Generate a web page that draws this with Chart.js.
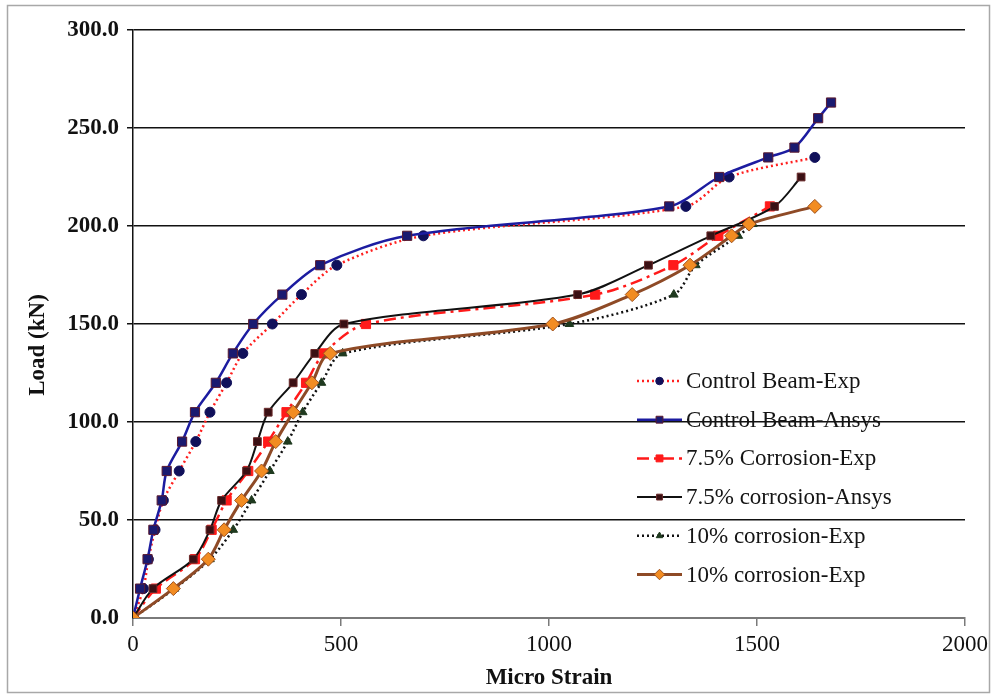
<!DOCTYPE html>
<html>
<head>
<meta charset="utf-8">
<script src="https://cdn.jsdelivr.net/npm/chart.js@4.4.1/dist/chart.umd.min.js"></script>
<style>
  html, body { margin: 0; padding: 0; background: #ffffff; }
  #wrap { width: 995px; height: 700px; position: relative; }
</style>
</head>
<body>
<div id="wrap"><canvas id="c" width="995" height="700"></canvas></div>
<script>
// Load (kN) levels and measured micro strain for each beam
const controlExpStrain   = [0, 25, 37, 53, 73, 111, 151, 185, 225, 264, 335, 405, 490, 698, 1329, 1433, 1639];
const controlExpLoad     = [0, 15, 30, 45, 60, 75, 90, 105, 120, 135, 150, 165, 180, 195, 210, 225, 235];

const controlAnsysStrain = [0, 17, 35, 49, 69, 81, 118, 149, 199, 240, 289, 359, 450, 659, 1289, 1409, 1527, 1590, 1647, 1678];
const controlAnsysLoad   = [0, 15, 30, 45, 60, 75, 90, 105, 120, 135, 150, 165, 180, 195, 210, 225, 235, 240, 255, 263];

const corr75ExpStrain    = [0, 55, 149, 189, 225, 277, 325, 369, 416, 459, 560, 1111, 1299, 1407, 1531];
const corr75ExpLoad      = [0, 15, 30, 45, 60, 75, 90, 105, 120, 135, 150, 165, 180, 195, 210];

const corr75AnsysStrain  = [0, 48, 145, 185, 213, 273, 299, 325, 385, 437, 507, 1069, 1239, 1389, 1542, 1606];
const corr75AnsysLoad    = [0, 15, 30, 45, 60, 75, 90, 105, 120, 135, 150, 165, 180, 195, 210, 225];

const corr10ExpStrain    = [0, 100, 185, 241, 285, 329, 372, 408, 453, 504, 1049, 1300, 1353, 1455, 1490];
const corr10ExpLoad      = [0, 15, 30, 45, 60, 75, 90, 105, 120, 135, 150, 165, 180, 195, 201];

const corr10BExpStrain   = [0, 97, 181, 219, 261, 309, 343, 385, 430, 474, 1009, 1200, 1339, 1439, 1481, 1639];
const corr10BExpLoad     = [0, 15, 30, 45, 60, 75, 90, 105, 120, 135, 150, 165, 180, 195, 201, 210];

const seriesNames = [
  'Control Beam-Exp',
  'Control Beam-Ansys',
  '7.5% Corrosion-Exp',
  '7.5% corrosion-Ansys',
  '10% corrosion-Exp',
  '10% corrosion-Exp'
];

const xTickValues = [0, 500, 1000, 1500, 2000];
const yTickValues = [0, 50, 100, 150, 200, 250, 300];
const yTitle = 'Load (kN)';

const pairs = (xs, ys) => xs.map((x, i) => ({ x: x, y: ys[i] }));

const SERIF = '"Liberation Serif", "Times New Roman", serif';

const datasets = [
  {
    label: seriesNames[0],
    data: pairs(controlExpStrain, controlExpLoad),
    borderColor: '#ff1f1f', borderWidth: 2.5, borderDash: [2, 3],
    pointStyle: 'circle', pointRadius: 5,
    pointBackgroundColor: '#10105a', pointBorderColor: '#10105a', pointBorderWidth: 1
  },
  {
    label: seriesNames[1],
    data: pairs(controlAnsysStrain, controlAnsysLoad),
    borderColor: '#1c1ca0', borderWidth: 2.5,
    pointStyle: 'rect', pointRadius: 6.5,
    pointBackgroundColor: '#1a1a70', pointBorderColor: '#5a1a30', pointBorderWidth: 1
  },
  {
    label: seriesNames[2],
    data: pairs(corr75ExpStrain, corr75ExpLoad),
    borderColor: '#ff1a1a', borderWidth: 2.5, borderDash: [12, 5, 3, 5],
    pointStyle: 'rect', pointRadius: 6.5,
    pointBackgroundColor: '#ff1a1a', pointBorderColor: '#ff1a1a', pointBorderWidth: 1
  },
  {
    label: seriesNames[3],
    data: pairs(corr75AnsysStrain, corr75AnsysLoad),
    borderColor: '#111111', borderWidth: 2,
    pointStyle: 'rect', pointRadius: 5.5,
    pointBackgroundColor: '#3a1014', pointBorderColor: '#6a2a2a', pointBorderWidth: 1
  },
  {
    label: seriesNames[4],
    data: pairs(corr10ExpStrain, corr10ExpLoad),
    borderColor: '#111111', borderWidth: 2.5, borderDash: [2, 3],
    pointStyle: 'triangle', pointRadius: 5,
    pointBackgroundColor: '#1f3a1f', pointBorderColor: '#1f3a1f', pointBorderWidth: 1
  },
  {
    label: seriesNames[5],
    data: pairs(corr10BExpStrain, corr10BExpLoad),
    borderColor: '#8e4a26', borderWidth: 3,
    pointStyle: 'rectRot', pointRadius: 7,
    pointBackgroundColor: '#f28c22', pointBorderColor: '#a0521e', pointBorderWidth: 1
  }
].map((d, i, arr) => Object.assign({
  showLine: true,
  tension: 0.3,
  fill: false,
  pointHoverRadius: d.pointRadius,
  order: arr.length - i      // later series are painted on top
}, d));

// Page background and thin grey frame
const framePlugin = {
  id: 'frame',
  beforeDraw(chart) {
    const ctx = chart.ctx;
    ctx.save();
    ctx.fillStyle = '#ffffff';
    ctx.fillRect(0, 0, chart.width, chart.height);
    ctx.strokeStyle = '#a8a8a8';
    ctx.lineWidth = 1.5;
    ctx.strokeRect(7.5, 5.5, 982, 687);
    ctx.restore();
  },
  // rotated value-axis title, sitting a little below the plot's centre
  afterDraw(chart) {
    const ctx = chart.ctx;
    ctx.save();
    ctx.translate(38, 345);
    ctx.rotate(-Math.PI / 2);
    ctx.fillStyle = '#111111';
    ctx.font = 'bold 23px ' + SERIF;
    ctx.textAlign = 'center';
    ctx.textBaseline = 'middle';
    ctx.fillText(yTitle, 0, 0);
    ctx.restore();
  }
};

// Legend drawn inside the plot, without a box
const insetLegend = {
  id: 'insetLegend',
  afterDatasetsDraw(chart) {
    const ctx = chart.ctx;
    const x0 = 637, x1 = 682, textX = 686, top = 381, step = 38.7;
    chart.data.datasets.forEach((ds, i) => {
      const y = top + i * step;
      ctx.save();
      ctx.strokeStyle = ds.borderColor;
      ctx.lineWidth = ds.borderWidth;
      ctx.setLineDash(ds.borderDash || []);
      ctx.beginPath();
      ctx.moveTo(x0, y);
      ctx.lineTo(x1, y);
      ctx.stroke();
      ctx.setLineDash([]);
      ctx.fillStyle = ds.pointBackgroundColor;
      ctx.strokeStyle = ds.pointBorderColor;
      ctx.lineWidth = 1;
      Chart.helpers.drawPoint(ctx, {
        pointStyle: ds.pointStyle,
        radius: ds.pointRadius * 0.75,
        borderWidth: 1,
        rotation: 0
      }, (x0 + x1) / 2, y);
      ctx.fillStyle = '#141414';
      ctx.font = '23px ' + SERIF;
      ctx.textBaseline = 'middle';
      ctx.textAlign = 'left';
      ctx.fillText(ds.label, textX, y + 1);
      ctx.restore();
    });
  }
};

new Chart(document.getElementById('c'), {
  type: 'scatter',
  data: { datasets: datasets },
  plugins: [framePlugin, insetLegend],
  options: {
    responsive: false,
    animation: false,
    devicePixelRatio: 1,
    layout: { padding: { left: 0, top: 30, right: 30, bottom: 0 } },
    plugins: {
      legend: { display: false },
      tooltip: { enabled: false }
    },
    scales: {
      x: {
        type: 'linear',
        min: 0, max: 2000,
        afterFit: s => { s.height = 82; },
        afterBuildTicks: s => { s.ticks = xTickValues.map(v => ({ value: v })); },
        ticks: {
          color: '#111111',
          font: { family: SERIF, size: 23 },
          padding: 5,
          maxRotation: 0,
          callback: v => String(v)
        },
        grid: {
          drawOnChartArea: false,
          drawTicks: true,
          tickLength: 8,
          color: '#7a7a7a',
          lineWidth: 1.5
        },
        border: { display: true, color: '#7a7a7a', width: 2 },
        title: {
          display: true,
          text: 'Micro Strain',
          color: '#111111',
          font: { family: SERIF, size: 23, weight: 'bold' },
          padding: { top: 0, bottom: 8 }
        }
      },
      y: {
        type: 'linear',
        min: 0, max: 300,
        afterFit: s => { s.width = 133; },
        afterBuildTicks: s => { s.ticks = yTickValues.map(v => ({ value: v })); },
        ticks: {
          color: '#111111',
          font: { family: SERIF, size: 23, weight: 'bold' },
          padding: 8,
          callback: v => Number(v).toFixed(1)
        },
        grid: {
          drawTicks: true,
          tickLength: 6,
          color: ctx => (ctx.tick && ctx.tick.value === 0) ? 'rgba(0,0,0,0)' : '#111111',
          lineWidth: 1.5
        },
        border: { display: true, color: '#111111', width: 1.5 },
        title: { display: false }
      }
    }
  }
});
</script>
</body>
</html>
